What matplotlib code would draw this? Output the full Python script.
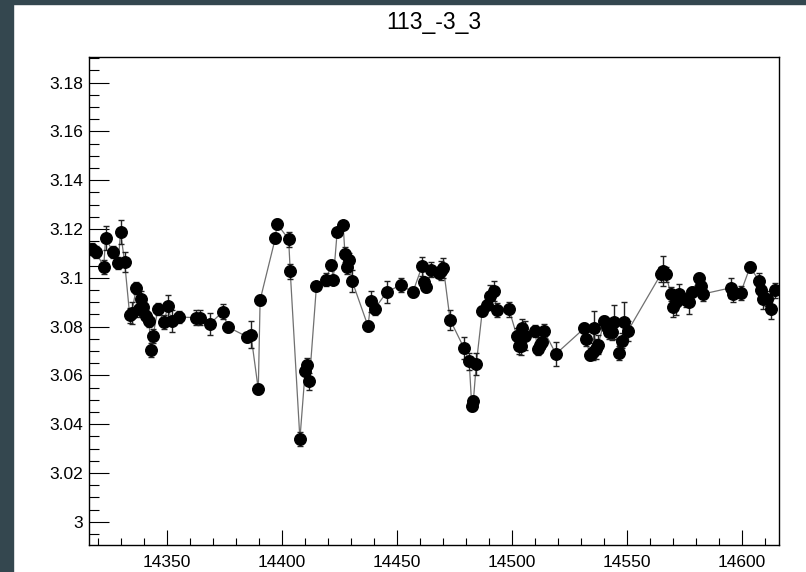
import numpy as np
import matplotlib
matplotlib.use("Agg")
import matplotlib.pyplot as plt
from matplotlib.ticker import MultipleLocator, FuncFormatter

plt.rcParams['font.family'] = ['Liberation Sans', 'DejaVu Sans']

title = "113_-3_3"

# time (x), value (y), error (ey)
x = [14317.3, 14319.3, 14322.5, 14323.3, 14326.5, 14328.8, 14329.8, 14331.6,
     14333.8, 14334.6, 14336.7, 14337.8, 14338.8, 14339.5, 14340.8, 14342.2,
     14342.9, 14343.9, 14346.1, 14348.8, 14350.3, 14352.1, 14355.2, 14362.5,
     14364.4, 14368.7, 14374.2, 14376.6, 14384.7, 14386.5, 14389.7, 14390.5,
     14397.1, 14397.8, 14402.9, 14403.6, 14407.8, 14410.1, 14411.0, 14411.9,
     14415.0, 14419.0, 14421.5, 14422.3, 14424.0, 14426.6, 14427.4, 14428.1,
     14429.1, 14430.5, 14437.4, 14438.7, 14440.3, 14445.6, 14451.7, 14456.9,
     14460.9, 14461.7, 14462.8, 14464.9, 14468.3, 14469.3, 14470.2, 14473.1,
     14479.1, 14481.4, 14482.5, 14483.2, 14484.5, 14487.1, 14489.3, 14490.5,
     14492.2, 14493.3, 14498.7, 14502.1, 14503.2, 14503.9, 14504.5, 14505.8,
     14510.0, 14511.1, 14512.2, 14512.9, 14514.0, 14519.1, 14531.4, 14532.2,
     14533.9, 14535.4, 14535.5, 14536.5, 14537.5, 14540.1, 14541.2, 14542.3,
     14543.5, 14544.4, 14546.4, 14547.9, 14548.7, 14550.3, 14564.7, 14565.8,
     14567.0, 14569.0, 14569.9, 14571.3, 14572.7, 14575.7, 14577.1, 14578.1,
     14581.5, 14582.2, 14583.2, 14595.1, 14596.3, 14599.4, 14603.5, 14607.4,
     14608.3, 14609.3, 14610.7, 14612.7, 14614.4]

y = [3.1119, 3.1105, 3.1044, 3.1163, 3.1107, 3.1060, 3.1188, 3.1064,
     3.0846, 3.0854, 3.0959, 3.0871, 3.0914, 3.0879, 3.0843, 3.0824,
     3.0704, 3.0762, 3.0873, 3.0819, 3.0883, 3.0822, 3.0839, 3.0837,
     3.0837, 3.0811, 3.0861, 3.0798, 3.0759, 3.0767, 3.0543, 3.0909,
     3.1162, 3.1222, 3.1158, 3.1026, 3.0339, 3.0619, 3.0641, 3.0576,
     3.0967, 3.0993, 3.1052, 3.0993, 3.1188, 3.1217, 3.1096, 3.1044,
     3.1071, 3.0987, 3.0802, 3.0903, 3.0873, 3.0942, 3.0971, 3.0941,
     3.1047, 3.0983, 3.0963, 3.1033, 3.1020, 3.1030, 3.1040, 3.0828,
     3.0713, 3.0658, 3.0475, 3.0494, 3.0648, 3.0865, 3.0889, 3.0925,
     3.0945, 3.0868, 3.0871, 3.0763, 3.0719, 3.0722, 3.0793, 3.0763,
     3.0781, 3.0709, 3.0726, 3.0739, 3.0781, 3.0688, 3.0793, 3.0749,
     3.0682, 3.0698, 3.0796, 3.0708, 3.0726, 3.0823, 3.0798, 3.0780,
     3.0776, 3.0820, 3.0692, 3.0743, 3.0820, 3.0781, 3.1014, 3.1028,
     3.1014, 3.0933, 3.0881, 3.0899, 3.0934, 3.0909, 3.0902, 3.0942,
     3.1001, 3.0968, 3.0934, 3.0959, 3.0932, 3.0938, 3.1044, 3.0989,
     3.0952, 3.0913, 3.0914, 3.0873, 3.0949]

ey = [0.0025, 0.0025, 0.003, 0.005, 0.0025, 0.0025, 0.005, 0.004,
      0.003, 0.0045, 0.0025, 0.003, 0.003, 0.003, 0.0025, 0.0025,
      0.003, 0.003, 0.0025, 0.003, 0.0045, 0.0045, 0.0025, 0.003,
      0.003, 0.0045, 0.003, 0.002, 0.002, 0.0055, 0.002, 0.002,
      0.002, 0.002, 0.003, 0.003, 0.003, 0.002, 0.003, 0.0035,
      0.0015, 0.0025, 0.002, 0.002, 0.0015, 0.0015, 0.003, 0.003,
      0.003, 0.0045, 0.002, 0.0045, 0.0025, 0.0045, 0.003, 0.002,
      0.004, 0.002, 0.002, 0.003, 0.002, 0.004, 0.004, 0.004,
      0.0045, 0.0035, 0.002, 0.002, 0.0045, 0.002, 0.002, 0.0045,
      0.004, 0.003, 0.003, 0.003, 0.003, 0.004, 0.004, 0.006,
      0.0025, 0.0025, 0.003, 0.003, 0.003, 0.005, 0.002, 0.003,
      0.002, 0.0035, 0.007, 0.004, 0.004, 0.002, 0.003, 0.003,
      0.003, 0.007, 0.003, 0.003, 0.008, 0.004, 0.003, 0.006,
      0.003, 0.003, 0.004, 0.005, 0.004, 0.003, 0.005, 0.002,
      0.002, 0.002, 0.003, 0.004, 0.003, 0.003, 0.002, 0.003,
      0.003, 0.004, 0.003, 0.004, 0.003]

fig = plt.figure(figsize=(8.06, 5.72), dpi=100)
fig.patch.set_facecolor('white')

# dark frame strips at left and top
fig.add_artist(plt.Rectangle((0, 0), 13 / 806, 1, transform=fig.transFigure,
                             color='#34474f', zorder=0))
fig.add_artist(plt.Rectangle((0, 1 - 4 / 572), 1, 4 / 572, transform=fig.transFigure,
                             color='#34474f', zorder=0))

ax = fig.add_axes([89 / 806, 1 - 545 / 572, (779 - 89) / 806, (545 - 57) / 572])

ax.plot(x, y, color='#707070', lw=0.9, zorder=1)
ax.errorbar(x, y, yerr=ey, fmt='none', ecolor='#222222', elinewidth=1,
            capsize=2.2, capthick=1, zorder=2)
ax.plot(x, y, 'o', color='black', ms=8.3, zorder=3)

ax.set_xlim(14316.1, 14616.1)
ax.set_ylim(2.9905, 3.1905)

ax.xaxis.set_major_locator(MultipleLocator(50))
ax.xaxis.set_minor_locator(MultipleLocator(10))
ax.yaxis.set_major_locator(MultipleLocator(0.02))
ax.yaxis.set_minor_locator(MultipleLocator(0.005))
ax.yaxis.set_major_formatter(FuncFormatter(lambda v, p: '%g' % round(v, 3)))
ax.xaxis.set_major_formatter(FuncFormatter(lambda v, p: '%d' % v))

ax.tick_params(axis='x', which='major', direction='in', length=10.5, width=0.8,
               labelsize=12.5, pad=7, top=False)
ax.tick_params(axis='x', which='minor', direction='in', length=5.2, width=0.8, top=False)
ax.tick_params(axis='y', which='major', direction='in', length=14.4, width=0.8,
               labelsize=12.5, pad=4, right=False)
ax.tick_params(axis='y', which='minor', direction='in', length=7.2, width=0.8, right=False)

for s in ax.spines.values():
    s.set_linewidth(1)
    s.set_color('black')

fig.text((89 + 779) / 2 / 806, 1 - 22 / 572, title, ha='center', va='center', fontsize=16.5)

fig.savefig('out.png', dpi=100)
